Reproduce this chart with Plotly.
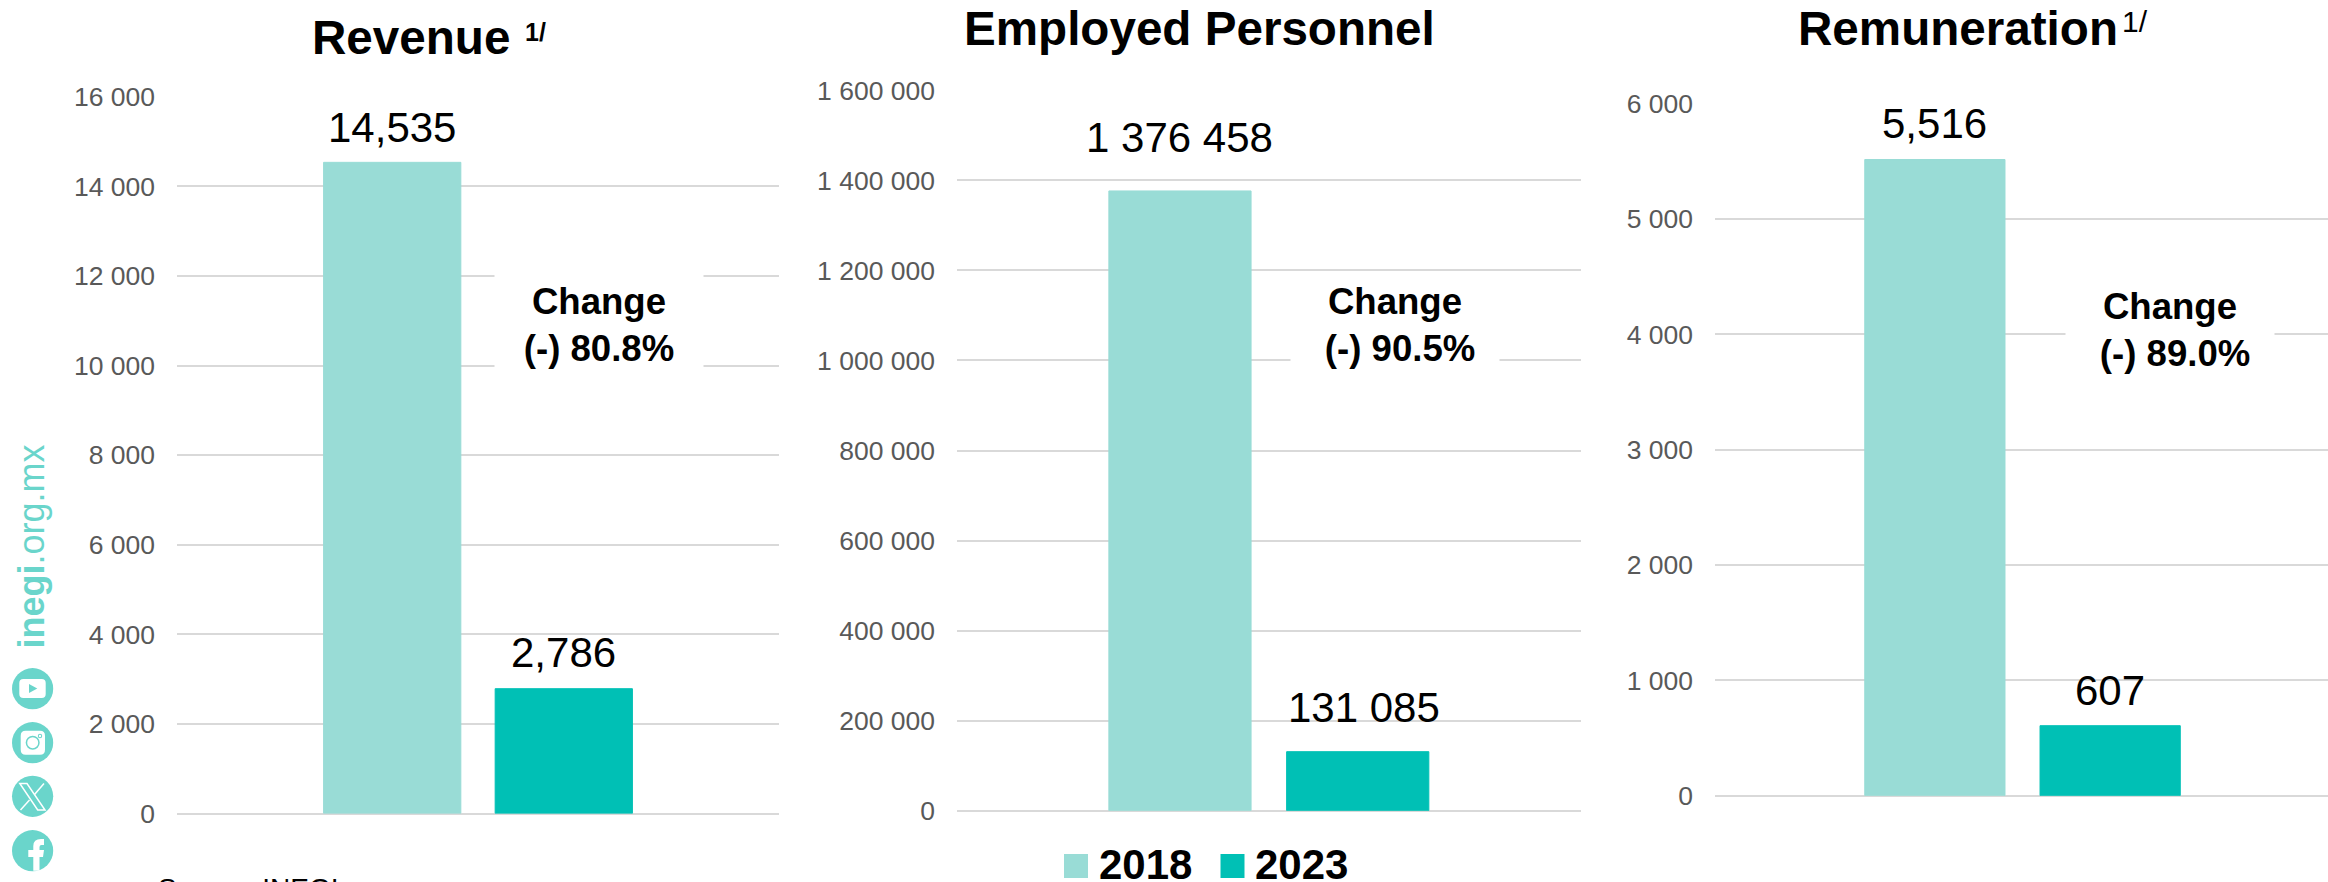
import plotly.graph_objects as go

W, H = 2328, 882

# ---------- data ----------
series_names = ["2018", "2023"]
category = ["Total"]
revenue = [14535, 2786]
personnel = [1376458, 131085]
remuneration = [5516, 607]
revenue_labels = ["14,535", "2,786"]
personnel_labels = ["1 376 458", "131 085"]
remuneration_labels = ["5,516", "607"]
revenue_ticks = [0, 2000, 4000, 6000, 8000, 10000, 12000, 14000, 16000]
personnel_ticks = [0, 200000, 400000, 600000, 800000, 1000000, 1200000, 1400000, 1600000]
remuneration_ticks = [0, 1000, 2000, 3000, 4000, 5000, 6000]
revenue_ticktext = ["0", "2 000", "4 000", "6 000", "8 000", "10 000", "12 000", "14 000", "16 000"]
personnel_ticktext = ["0", "200 000", "400 000", "600 000", "800 000", "1 000 000", "1 200 000", "1 400 000", "1 600 000"]
remuneration_ticktext = ["0", "1 000", "2 000", "3 000", "4 000", "5 000", "6 000"]
titles = ["Revenue", "Employed Personnel", "Remuneration"]
changes = ["(-) 80.8%", "(-) 90.5%", "(-) 89.0%"]

# ---------- style ----------
C18, C23 = "#99DCD6", "#00C0B5"
TEAL = "#6AD5CB"
GRID = "#D9D9D9"
FONT = "Liberation Sans"


def px(x):
    return x / W


def py(y):
    return 1 - y / H


panels = [
    dict(vals=revenue, labels=revenue_labels, ticks=revenue_ticks, ticktext=revenue_ticktext,
         left=177, right=779, top=96.7, bottom=813.5, xrange=[-0.5, 0.5],
         gap=[21, 23], lx=[0, 0], title_x=311, title_base=54,
         box=(599, 325), pad=""),
    dict(vals=personnel, labels=personnel_labels, ticks=personnel_ticks, ticktext=personnel_ticktext,
         left=957, right=1580.7, top=90.3, bottom=810.7, xrange=[-0.5, 0.5],
         gap=[40, 31], lx=[0, 6], title_x=963, title_base=46,
         box=(1395, 325), pad="\u00a0"),
    dict(vals=remuneration, labels=remuneration_labels, ticks=remuneration_ticks, ticktext=remuneration_ticktext,
         left=1715, right=2328, top=103.7, bottom=795.7, xrange=[-0.5, 0.4967],
         gap=[23, 22], lx=[0, 0], title_x=1797, title_base=46,
         box=(2170, 330), pad="\u00a0"),
]

fig = go.Figure()
layout = dict(
    width=W, height=H, autosize=False,
    margin=dict(l=0, r=0, t=0, b=0, pad=0),
    paper_bgcolor="white", plot_bgcolor="white",
    barmode="group", bargap=0.43, bargroupgap=0.2,
    showlegend=False,
    font=dict(family=FONT, color="#000000"),
)
annotations = []
shapes = []


def paper_text(text, x, y, size, xanchor="left", yanchor="middle", color="#000000", **kw):
    annotations.append(dict(text=text, x=px(x), y=py(y), xref="paper", yref="paper",
                            xanchor=xanchor, yanchor=yanchor, showarrow=False,
                            font=dict(family=FONT, size=size, color=color),
                            borderpad=0, **kw))


for i, p in enumerate(panels):
    n = "" if i == 0 else str(i + 1)
    for j, (name, col) in enumerate(zip(series_names, (C18, C23))):
        fig.add_trace(go.Bar(x=category, y=[p["vals"][j]], name=name,
                             marker=dict(color=col, line=dict(color=col, width=1)),
                             xaxis="x" + n, yaxis="y" + n, hoverinfo="x+y"))
    layout["xaxis" + n] = dict(domain=[px(p["left"]), px(p["right"])], range=p["xrange"],
                               anchor="y" + n, showgrid=False, zeroline=False, showline=False,
                               showticklabels=False, ticks="", fixedrange=True, automargin=False)
    layout["yaxis" + n] = dict(domain=[py(p["bottom"]), py(p["top"])], anchor="x" + n,
                               range=[p["ticks"][0], p["ticks"][-1]],
                               tickmode="array", tickvals=p["ticks"], ticktext=p["ticktext"],
                               tickfont=dict(family=FONT, size=26.5, color="#595959"),
                               ticks="", ticklabelstandoff=21, automargin=False,
                               showgrid=True, gridcolor=GRID, gridwidth=1.5,
                               zeroline=True, zerolinecolor=GRID, zerolinewidth=1.5,
                               showline=False, fixedrange=True)
    # data labels
    span = p["right"] - p["left"]
    units = p["xrange"][1] - p["xrange"][0]
    for j in range(2):
        offs = (-0.1425 if j == 0 else 0.1425) * span / units
        annotations.append(dict(text=p["labels"][j], x=0, y=p["vals"][j],
                                xref="x" + n, yref="y" + n,
                                xanchor="center", yanchor="bottom", showarrow=False,
                                xshift=offs + p["lx"][j], yshift=p["gap"][j] - 11,
                                font=dict(family=FONT, size=42, color="#000000"), borderpad=0))
    # title
    paper_text("<b>%s</b>" % titles[i], p["title_x"], p["title_base"] - 17, 47.6)
    # change box
    cx, cy = p["box"]
    annotations.append(dict(text="<b>Change<br>%s%s</b>" % (p["pad"], changes[i]),
                            x=px(cx), y=py(cy), xref="paper", yref="paper",
                            xanchor="center", yanchor="middle", showarrow=False,
                            width=208, height=106, align="center", valign="middle",
                            bgcolor="white", borderpad=0,
                            font=dict(family=FONT, size=36.6, color="#000000")))

# superscripts
paper_text("<b>1/</b>", 524, 32, 25)
paper_text("1/", 2121, 21, 30)

# legend
for x, col, name, tx in ((1064, C18, series_names[0], 1098), (1220.5, C23, series_names[1], 1254)):
    shapes.append(dict(type="rect", xref="paper", yref="paper", x0=px(x), x1=px(x + 24),
                       y0=py(878), y1=py(854), fillcolor=col, line=dict(width=0)))
    paper_text("<b>%s</b>" % name, tx, 864, 42)

# source line (cut by the bottom edge in the reference)
paper_text("Source: INEGI", 157, 888, 28)

# side branding
annotations.append(dict(text="<b>inegi</b>.org.mx", x=px(31), y=py(546.5), xref="paper", yref="paper",
                        xanchor="center", yanchor="middle", textangle=-90, showarrow=False,
                        font=dict(family=FONT, size=36, color=TEAL), borderpad=0))


def circle(cx, cy, r, color):
    shapes.append(dict(type="circle", xref="paper", yref="paper", x0=px(cx - r), x1=px(cx + r),
                       y0=py(cy + r), y1=py(cy - r), fillcolor=color, line=dict(width=0)))


def path(points_cmd, fill=None, line=None):
    parts = []
    for c in points_cmd:
        if c[0] in "ML":
            parts.append(f"{c[0]} {px(c[1])} {py(c[2])}")
        elif c[0] == "Q":
            parts.append(f"Q {px(c[1])} {py(c[2])} {px(c[3])} {py(c[4])}")
        else:
            parts.append("Z")
    s = dict(type="path", xref="paper", yref="paper", path=" ".join(parts))
    s["fillcolor"] = fill if fill else "rgba(0,0,0,0)"
    s["line"] = dict(color=line, width=1.5) if line else dict(width=0)
    shapes.append(s)


def rrect(x0, y0, x1, y1, r, fill):
    path([("M", x0 + r, y0), ("L", x1 - r, y0), ("Q", x1, y0, x1, y0 + r), ("L", x1, y1 - r),
          ("Q", x1, y1, x1 - r, y1), ("L", x0 + r, y1), ("Q", x0, y1, x0, y1 - r), ("L", x0, y0 + r),
          ("Q", x0, y0, x0 + r, y0), ("Z",)], fill=fill)


CX = 32.6
for cy in (688.7, 742.7, 796.3, 850.7):
    circle(CX, cy, 20.6, TEAL)
# youtube
rrect(19.3, 679, 45.7, 698, 4, "white")
path([("M", 29, 684), ("L", 37.3, 688.5), ("L", 29, 693), ("Z",)], fill=TEAL)
# instagram
rrect(20.7, 730.7, 45, 754.7, 5, "white")
circle(32.7, 742.7, 7, TEAL)
circle(32.7, 742.7, 5.5, "white")
circle(40, 736, 2.2, TEAL)
circle(40, 736, 1.2, "white")
# x
path([("M", 19.8, 783.5), ("L", 27, 783.5), ("L", 45, 810), ("L", 37.7, 810), ("Z",)], line="white")
path([("M", 44, 783.5), ("L", 34.5, 794.5)], line="white")
path([("M", 29.5, 800), ("L", 20.5, 810)], line="white")
# facebook
path([("M", 33.3, 870.8), ("L", 33.3, 857), ("L", 28.3, 857), ("L", 28.3, 850), ("L", 33.3, 850),
      ("L", 33.3, 846), ("Q", 33.3, 839, 41, 839), ("L", 44, 839), ("L", 44, 845), ("L", 41.5, 845),
      ("Q", 39.5, 845, 39.5, 847), ("L", 39.5, 850), ("L", 44, 850), ("L", 43, 857), ("L", 39.5, 857),
      ("L", 39.5, 870.8), ("Z",)], fill="white")

layout["annotations"] = annotations
layout["shapes"] = shapes
fig.update_layout(**layout)
fig.write_html("out.html", config=dict(displayModeBar=False),
               post_script="document.body.style.margin='0';document.documentElement.style.overflow='hidden';")
